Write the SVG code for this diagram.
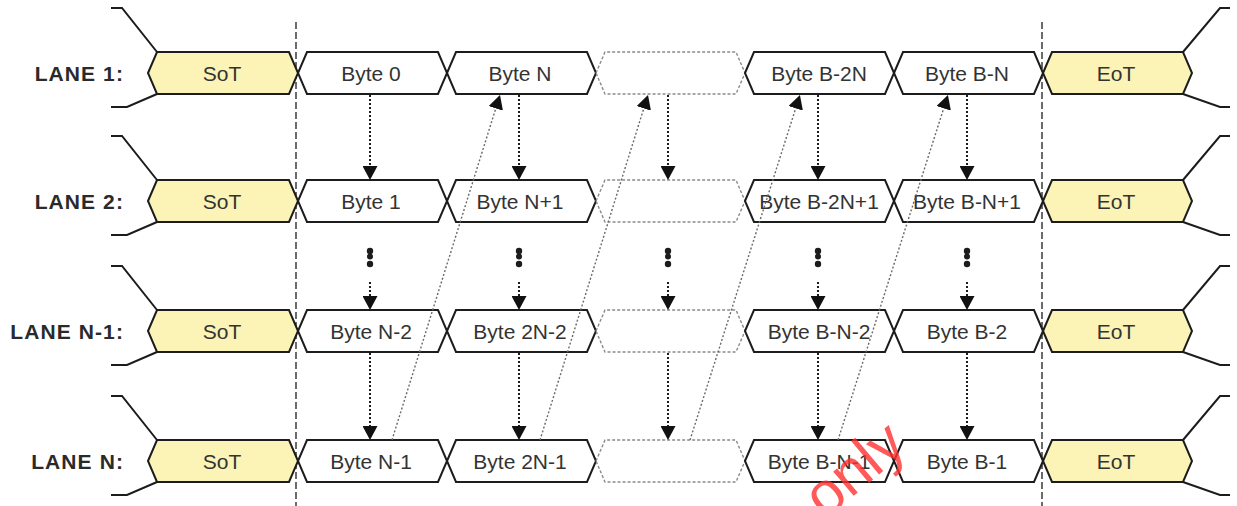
<svg xmlns="http://www.w3.org/2000/svg" width="1237" height="506" viewBox="0 0 1237 506">
  <style>
    .box { fill: #ffffff; stroke: #1c1c1c; stroke-width: 2; stroke-linejoin: miter; }
    .mark { fill: #fbf4b6; stroke: #1c1c1c; stroke-width: 2; }
    .ghost { fill: #ffffff; stroke: #8a8a8a; stroke-width: 1.4; stroke-dasharray: 3 2; }
    .tail { fill: none; stroke: #1c1c1c; stroke-width: 2; }
    .lbl { font-family: "Liberation Sans", Arial, sans-serif; font-size: 21px; fill: #333333; text-anchor: middle; }
    .lane { font-family: "Liberation Sans", Arial, sans-serif; font-size: 21px; font-weight: bold; fill: #2a2a2a; text-anchor: end; letter-spacing: 1.1px; }
    .guide { stroke: #1c1c1c; stroke-width: 1.3; stroke-dasharray: 7 3; }
    .down { stroke: #1c1c1c; stroke-width: 2; stroke-dasharray: 2 2; fill: none; }
    .diag { stroke: #6a6a6a; stroke-width: 1.4; stroke-dasharray: 2 2; fill: none; }
    .dot { fill: #1c1c1c; }
    .wm { font-family: "Liberation Sans", Arial, sans-serif; font-size: 60px; fill: #ff3030; opacity: 0.8; }
  </style>
  <defs>
    <marker id="head" viewBox="0 -7.5 14 15" refX="0" refY="0" markerWidth="14" markerHeight="15" markerUnits="userSpaceOnUse" orient="auto">
      <path d="M0,-7.5 L14,0 L0,7.5 z" fill="#111111"/>
    </marker>
  </defs>

  <rect width="1237" height="506" fill="#ffffff"/>

  <!-- start / end of transmission guides -->
  <g id="guides">
    <line class="guide" x1="296" y1="22" x2="296" y2="506"/>
    <line class="guide" x1="1042" y1="22" x2="1042" y2="506"/>
  </g>

  <!-- LANE 1 -->
  <g id="lane1" transform="translate(0,52)">
    <text class="lane" x="124" y="29">LANE 1:</text>
    <g id="lane1-sot">
      <path class="tail" d="M157,0 L122,-44 L111,-44 M157,42 L127,55 L111,55"/>
      <polygon class="mark" points="148,21 157,0 289,0 298,21 289,42 157,42"/>
      <text class="lbl" x="222" y="29">SoT</text>
    </g>
    <g id="lane1-b0"><polygon class="box" points="298,21 307,0 438,0 447,21 438,42 307,42"/><text class="lbl" x="371" y="29">Byte 0</text></g>
    <g id="lane1-b1"><polygon class="box" points="447,21 456,0 587,0 596,21 587,42 456,42"/><text class="lbl" x="520" y="29">Byte N</text></g>
    <g id="lane1-gap"><polygon class="ghost" points="596,21 605,0 736,0 745,21 736,42 605,42"/></g>
    <g id="lane1-b2"><polygon class="box" points="745,21 754,0 885,0 894,21 885,42 754,42"/><text class="lbl" x="819" y="29">Byte B-2N</text></g>
    <g id="lane1-b3"><polygon class="box" points="894,21 903,0 1034,0 1043,21 1034,42 903,42"/><text class="lbl" x="967" y="29">Byte B-N</text></g>
    <g id="lane1-eot">
      <path class="tail" d="M1183,0 L1220,-44 L1230,-44 M1183,42 L1220,55 L1230,55"/>
      <polygon class="mark" points="1043,21 1052,0 1183,0 1192,21 1183,42 1052,42"/>
      <text class="lbl" x="1116" y="29">EoT</text>
    </g>
  </g>

  <!-- LANE 2 -->
  <g id="lane2" transform="translate(0,180)">
    <text class="lane" x="124" y="29">LANE 2:</text>
    <g id="lane2-sot">
      <path class="tail" d="M157,0 L122,-44 L111,-44 M157,42 L127,55 L111,55"/>
      <polygon class="mark" points="148,21 157,0 289,0 298,21 289,42 157,42"/>
      <text class="lbl" x="222" y="29">SoT</text>
    </g>
    <g id="lane2-b0"><polygon class="box" points="298,21 307,0 438,0 447,21 438,42 307,42"/><text class="lbl" x="371" y="29">Byte 1</text></g>
    <g id="lane2-b1"><polygon class="box" points="447,21 456,0 587,0 596,21 587,42 456,42"/><text class="lbl" x="520" y="29">Byte N+1</text></g>
    <g id="lane2-gap"><polygon class="ghost" points="596,21 605,0 736,0 745,21 736,42 605,42"/></g>
    <g id="lane2-b2"><polygon class="box" points="745,21 754,0 885,0 894,21 885,42 754,42"/><text class="lbl" x="819" y="29">Byte B-2N+1</text></g>
    <g id="lane2-b3"><polygon class="box" points="894,21 903,0 1034,0 1043,21 1034,42 903,42"/><text class="lbl" x="967" y="29">Byte B-N+1</text></g>
    <g id="lane2-eot">
      <path class="tail" d="M1183,0 L1220,-44 L1230,-44 M1183,42 L1220,55 L1230,55"/>
      <polygon class="mark" points="1043,21 1052,0 1183,0 1192,21 1183,42 1052,42"/>
      <text class="lbl" x="1116" y="29">EoT</text>
    </g>
  </g>

  <!-- LANE N-1 -->
  <g id="laneN1" transform="translate(0,310)">
    <text class="lane" x="124" y="29">LANE N-1:</text>
    <g id="laneN1-sot">
      <path class="tail" d="M157,0 L122,-44 L111,-44 M157,42 L127,55 L111,55"/>
      <polygon class="mark" points="148,21 157,0 289,0 298,21 289,42 157,42"/>
      <text class="lbl" x="222" y="29">SoT</text>
    </g>
    <g id="laneN1-b0"><polygon class="box" points="298,21 307,0 438,0 447,21 438,42 307,42"/><text class="lbl" x="371" y="29">Byte N-2</text></g>
    <g id="laneN1-b1"><polygon class="box" points="447,21 456,0 587,0 596,21 587,42 456,42"/><text class="lbl" x="520" y="29">Byte 2N-2</text></g>
    <g id="laneN1-gap"><polygon class="ghost" points="596,21 605,0 736,0 745,21 736,42 605,42"/></g>
    <g id="laneN1-b2"><polygon class="box" points="745,21 754,0 885,0 894,21 885,42 754,42"/><text class="lbl" x="819" y="29">Byte B-N-2</text></g>
    <g id="laneN1-b3"><polygon class="box" points="894,21 903,0 1034,0 1043,21 1034,42 903,42"/><text class="lbl" x="967" y="29">Byte B-2</text></g>
    <g id="laneN1-eot">
      <path class="tail" d="M1183,0 L1220,-44 L1230,-44 M1183,42 L1220,55 L1230,55"/>
      <polygon class="mark" points="1043,21 1052,0 1183,0 1192,21 1183,42 1052,42"/>
      <text class="lbl" x="1116" y="29">EoT</text>
    </g>
  </g>

  <!-- LANE N -->
  <g id="laneN" transform="translate(0,440)">
    <text class="lane" x="124" y="29">LANE N:</text>
    <g id="laneN-sot">
      <path class="tail" d="M157,0 L122,-44 L111,-44 M157,42 L127,55 L111,55"/>
      <polygon class="mark" points="148,21 157,0 289,0 298,21 289,42 157,42"/>
      <text class="lbl" x="222" y="29">SoT</text>
    </g>
    <g id="laneN-b0"><polygon class="box" points="298,21 307,0 438,0 447,21 438,42 307,42"/><text class="lbl" x="371" y="29">Byte N-1</text></g>
    <g id="laneN-b1"><polygon class="box" points="447,21 456,0 587,0 596,21 587,42 456,42"/><text class="lbl" x="520" y="29">Byte 2N-1</text></g>
    <g id="laneN-gap"><polygon class="ghost" points="596,21 605,0 736,0 745,21 736,42 605,42"/></g>
    <g id="laneN-b2"><polygon class="box" points="745,21 754,0 885,0 894,21 885,42 754,42"/><text class="lbl" x="819" y="29">Byte B-N-1</text></g>
    <g id="laneN-b3"><polygon class="box" points="894,21 903,0 1034,0 1043,21 1034,42 903,42"/><text class="lbl" x="967" y="29">Byte B-1</text></g>
    <g id="laneN-eot">
      <path class="tail" d="M1183,0 L1220,-44 L1230,-44 M1183,42 L1220,55 L1230,55"/>
      <polygon class="mark" points="1043,21 1052,0 1183,0 1192,21 1183,42 1052,42"/>
      <text class="lbl" x="1116" y="29">EoT</text>
    </g>
  </g>

  <!-- byte ordering connectors -->
  <g id="connectors">
    <!-- lane 1 to lane 2 -->
    <line class="down" x1="370" y1="95" x2="370" y2="166" marker-end="url(#head)"/>
    <line class="down" x1="519" y1="95" x2="519" y2="166" marker-end="url(#head)"/>
    <line class="down" x1="668" y1="95" x2="668" y2="166" marker-end="url(#head)"/>
    <line class="down" x1="818" y1="95" x2="818" y2="166" marker-end="url(#head)"/>
    <line class="down" x1="967" y1="95" x2="967" y2="166" marker-end="url(#head)"/>
    <!-- elided lanes -->
    <g class="dot">
      <circle cx="370" cy="251" r="3.2"/><circle cx="370" cy="256.5" r="3"/><circle cx="370" cy="264" r="3.2"/>
      <circle cx="519" cy="251" r="3.2"/><circle cx="519" cy="256.5" r="3"/><circle cx="519" cy="264" r="3.2"/>
      <circle cx="668" cy="251" r="3.2"/><circle cx="668" cy="256.5" r="3"/><circle cx="668" cy="264" r="3.2"/>
      <circle cx="818" cy="251" r="3.2"/><circle cx="818" cy="256.5" r="3"/><circle cx="818" cy="264" r="3.2"/>
      <circle cx="967" cy="251" r="3.2"/><circle cx="967" cy="256.5" r="3"/><circle cx="967" cy="264" r="3.2"/>
    </g>
    <line class="down" x1="370" y1="282" x2="370" y2="296" marker-end="url(#head)"/>
    <line class="down" x1="519" y1="282" x2="519" y2="296" marker-end="url(#head)"/>
    <line class="down" x1="668" y1="282" x2="668" y2="296" marker-end="url(#head)"/>
    <line class="down" x1="818" y1="282" x2="818" y2="296" marker-end="url(#head)"/>
    <line class="down" x1="967" y1="282" x2="967" y2="296" marker-end="url(#head)"/>
    <!-- lane N-1 to lane N -->
    <line class="down" x1="370" y1="353" x2="370" y2="426" marker-end="url(#head)"/>
    <line class="down" x1="519" y1="353" x2="519" y2="426" marker-end="url(#head)"/>
    <line class="down" x1="668" y1="353" x2="668" y2="426" marker-end="url(#head)"/>
    <line class="down" x1="818" y1="353" x2="818" y2="426" marker-end="url(#head)"/>
    <line class="down" x1="967" y1="353" x2="967" y2="426" marker-end="url(#head)"/>
    <!-- wrap from lane N back to lane 1 -->
    <line class="diag" x1="392" y1="440" x2="495.8" y2="108.4" marker-end="url(#head)"/>
    <line class="diag" x1="540" y1="440" x2="643.8" y2="108.4" marker-end="url(#head)"/>
    <line class="diag" x1="690" y1="440" x2="795.7" y2="108.3" marker-end="url(#head)"/>
    <line class="diag" x1="838" y1="440" x2="943.7" y2="108.3" marker-end="url(#head)"/>
  </g>

  <text class="wm" x="825" y="520" transform="rotate(-40 825 520)">only</text>
</svg>
